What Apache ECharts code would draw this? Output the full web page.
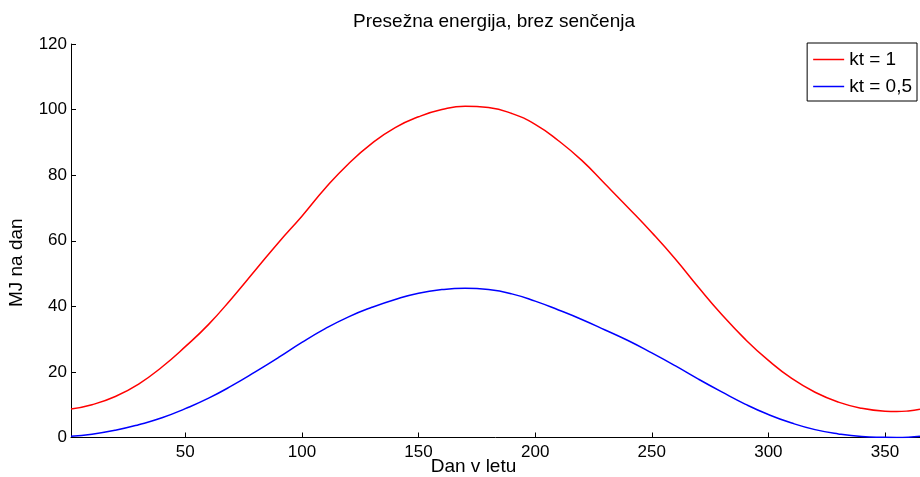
<!DOCTYPE html>
<html>
<head>
<meta charset="utf-8">
<script src="https://cdn.jsdelivr.net/npm/echarts@6/dist/echarts.min.js"></script>
<style>html,body{margin:0;padding:0;background:#fff;}#c{width:920px;height:477px;}</style>
</head>
<body>
<div id="c"></div>
<script>
const titleText = 'Presežna energija, brez senčenja';
const xName = 'Dan v letu';
const yName = 'MJ na dan';
const seriesNames = ['kt = 1', 'kt = 0,5'];
const days = [1,10,20,30,40,50,60,70,80,90,100,110,120,130,140,150,160,170,180,190,200,210,220,230,240,250,260,270,280,290,300,310,320,330,340,350,355,360,365];
const kt1 = [8.7,10.0,12.5,16.3,21.5,27.7,34.5,42.5,51.0,59.5,67.5,76.0,83.5,89.7,94.5,97.8,100.0,101.0,100.6,98.8,95.5,90.5,84.5,77.3,70.0,62.5,54.5,45.8,37.5,30.0,23.5,18.0,13.8,10.8,8.9,8.0,7.9,8.1,8.6];
const kt05 = [0.4,1.0,2.2,3.9,6.0,8.8,12.0,15.8,20.0,24.4,29.0,33.2,36.8,39.7,42.1,44.0,45.1,45.5,45.1,43.8,41.6,38.9,36.0,32.8,29.5,25.8,21.9,17.8,13.9,10.2,7.0,4.4,2.4,1.1,0.3,0.05,0.0,0.1,0.4];
const xTicks = [50,100,150,200,250,300,350];

const FONT = 'Liberation Sans, Arial, sans-serif';
const FS = 17;
const chart = echarts.init(document.getElementById('c'));
const pairs = (ys) => days.map((d, i) => [d, ys[i]]);
chart.setOption({
  animation: false,
  backgroundColor: '#fff',
  textStyle: { fontFamily: FONT },
  grid: { left: 71, right: 0, top: 44, bottom: 39.5, outerBoundsMode: 'none', containLabel: false },
  graphic: [
    { type: 'text', x: 494, y: 22, style: { text: titleText, font: '19px ' + FONT, fill: '#000', textAlign: 'center', textVerticalAlign: 'middle' } }
  ],
  legend: {
    orient: 'vertical', right: 3, top: 43,
    backgroundColor: '#fff', borderColor: '#000', borderWidth: 1, borderRadius: 0,
    padding: [7, 5, 5, 6], itemWidth: 31, itemHeight: 1.5, itemGap: 8, icon: 'rect',
    textStyle: { fontSize: 19, lineHeight: 14, color: '#000', fontFamily: FONT },
    data: seriesNames
  },
  xAxis: {
    type: 'value', min: 1, max: 365,
    name: xName, nameLocation: 'middle', nameGap: 20, nameMoveOverlap: false,
    nameTextStyle: { fontSize: 19, color: '#000', fontFamily: FONT, padding: [0, 44, 0, 0] },
    axisLine: { show: true, lineStyle: { color: '#000', width: 1 } },
    axisTick: { show: true, inside: true, length: 5, customValues: xTicks, lineStyle: { color: '#000' } },
    axisLabel: { show: true, customValues: xTicks, fontSize: FS, color: '#000', margin: 6, fontFamily: FONT },
    splitLine: { show: false }
  },
  yAxis: {
    type: 'value', min: 0, max: 120, interval: 20,
    name: yName, nameLocation: 'middle', nameGap: 45, nameMoveOverlap: false,
    nameTextStyle: { fontSize: 19, color: '#000', fontFamily: FONT, padding: [0, 44, 0, 0] },
    axisLine: { show: true, lineStyle: { color: '#000', width: 1 } },
    axisTick: { show: true, inside: true, length: 5, lineStyle: { color: '#000' } },
    axisLabel: { show: true, fontSize: FS, color: '#000', margin: 4, fontFamily: FONT },
    splitLine: { show: false }
  },
  series: [
    { name: seriesNames[0], type: 'line', data: pairs(kt1), symbol: 'none', smooth: 0.5,
      lineStyle: { color: '#ff0000', width: 1.5 }, itemStyle: { color: '#ff0000' } },
    { name: seriesNames[1], type: 'line', data: pairs(kt05), symbol: 'none', smooth: 0.5,
      lineStyle: { color: '#0000ff', width: 1.5 }, itemStyle: { color: '#0000ff' } }
  ]
});
</script>
</body>
</html>
